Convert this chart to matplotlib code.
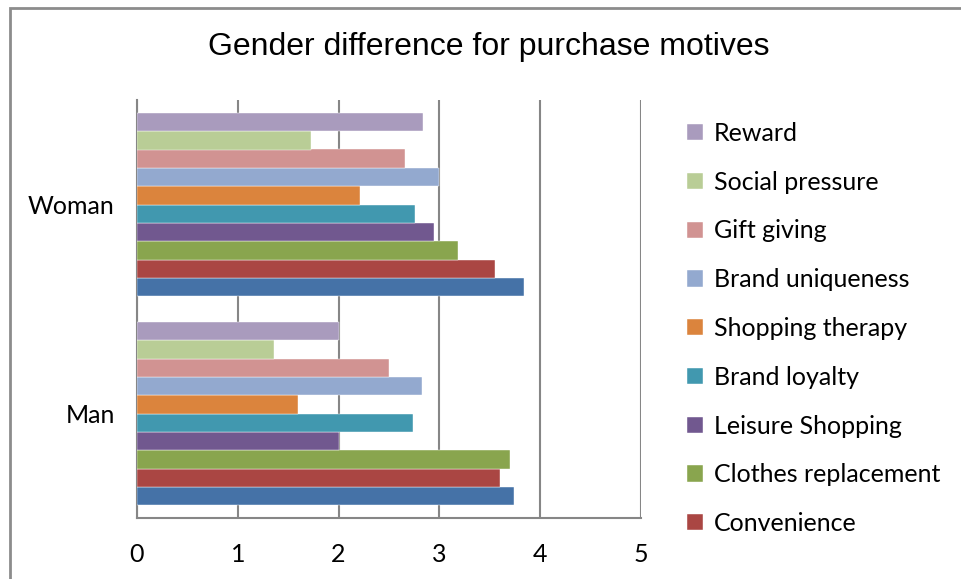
import matplotlib.pyplot as plt
import numpy as np
from matplotlib.patches import Rectangle

# categories (bottom to top on the axis)
groups = ['Man', 'Woman']

# series in drawing order: first is the bottom bar of each group
series_names = ['', 'Convenience', 'Clothes replacement', 'Leisure Shopping',
                'Brand loyalty', 'Shopping therapy', 'Brand uniqueness',
                'Gift giving', 'Social pressure', 'Reward']
man_values = [3.74, 3.60, 3.70, 2.00, 2.74, 1.60, 2.83, 2.50, 1.36, 2.00]
woman_values = [3.84, 3.55, 3.18, 2.95, 2.76, 2.21, 3.00, 2.66, 1.73, 2.84]
colors = ['#4572A7', '#AA4643', '#89A54E', '#71588F', '#4198AF',
          '#DB843D', '#93A9CF', '#D19392', '#B9CD96', '#A99BBD']

fig = plt.figure(figsize=(9.61, 5.79), dpi=100)
ax = fig.add_axes([137/961, 1 - 518/579, (641 - 137)/961, (518 - 100)/579])

n = len(series_names)
h = 1 / (n + 1.4)
y = np.arange(len(groups))
handles = []
for i in range(n):
    vals = [man_values[i], woman_values[i]]
    b = ax.barh(y + (i - (n - 1) / 2) * h, vals, height=h, color=colors[i],
                edgecolor='white', linewidth=0.3, zorder=3)
    if series_names[i]:
        handles.append((b, series_names[i]))

ax.set_xlim(0, 5)
ax.set_ylim(-0.5, 1.5)
ax.set_xticks(range(6))
ax.set_yticks(y)
ax.set_yticklabels(groups)
ax.tick_params(axis='both', length=0, labelsize=18, colors='black')
ax.tick_params(axis='x', pad=18)
ax.tick_params(axis='y', pad=16)
for lab in ax.get_xticklabels() + ax.get_yticklabels():
    lab.set_family('Lato')
ax.grid(axis='x', color='#868686', linewidth=1.5, zorder=0)
for s in ['top', 'right']:
    ax.spines[s].set_visible(False)
for s in ['left', 'bottom']:
    ax.spines[s].set_color('#868686')
    ax.spines[s].set_linewidth(1.5)

fig.text(489/961, 1 - 47/579, 'Gender difference for purchase motives',
         ha='center', va='center', fontsize=23, family='Liberation Sans')

# legend: Reward at top, as in the reference
handles = handles[::-1]
ax.legend([hh[0] for hh in handles], [hh[1] for hh in handles],
          loc='upper left', bbox_to_anchor=(687/961, 1 - 122/579),
          bbox_transform=fig.transFigure, frameon=False,
          prop={'family': 'Lato', 'size': 18}, handlelength=0.62,
          handleheight=0.62, handletextpad=0.45, labelspacing=1.03,
          borderpad=0, borderaxespad=0)

# chart area frame
fig.patches.append(Rectangle((10/961, -0.1), 1.2, 1 - 8/579 + 0.1,
                             transform=fig.transFigure, fill=False,
                             edgecolor='#8c8c8c', linewidth=2))

fig.savefig('out.png', dpi=100)
